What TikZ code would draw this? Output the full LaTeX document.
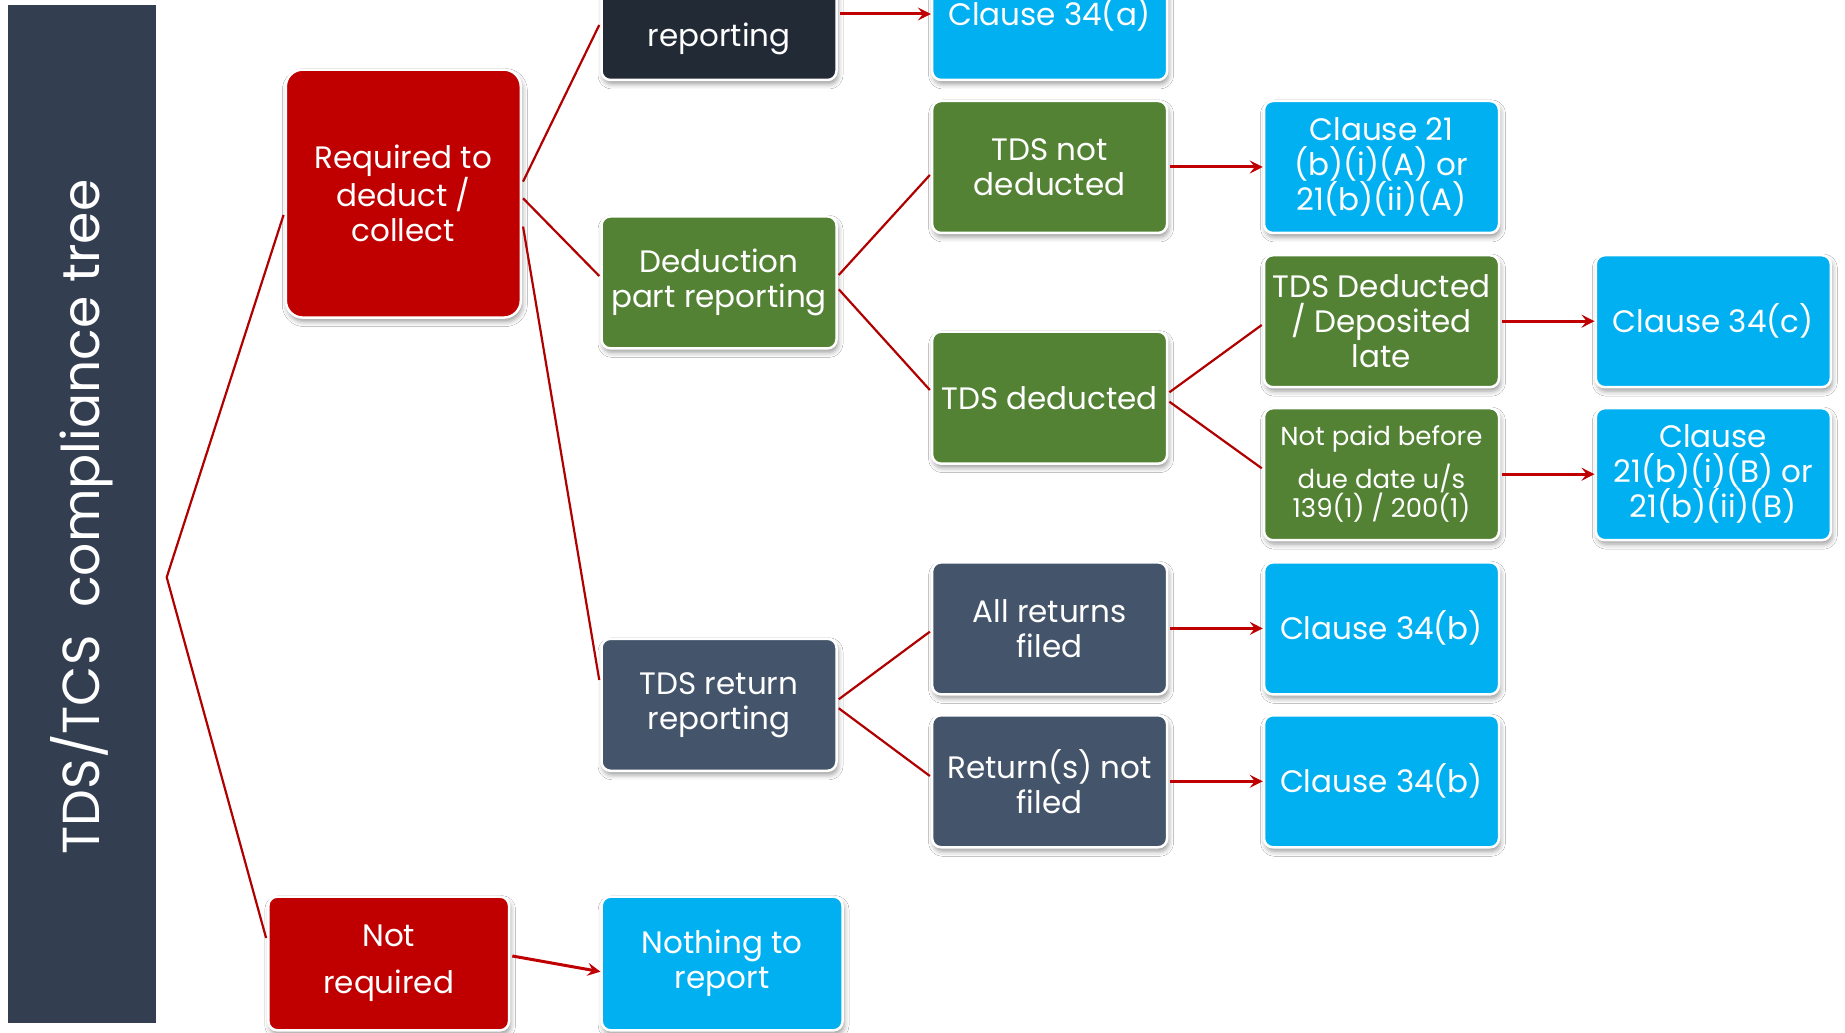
\documentclass[tikz,border=0pt]{standalone}
\usepackage{fontspec}
\setmainfont{Poppins}
\usetikzlibrary{calc,arrows.meta,shadows.blur}

\definecolor{barcol}{HTML}{333F50}
\definecolor{navybox}{HTML}{222A35}
\definecolor{redbox}{HTML}{C00000}
\definecolor{greenbox}{HTML}{548235}
\definecolor{slatebox}{HTML}{44546A}
\definecolor{bluebox}{HTML}{00B0F0}
\definecolor{linkred}{HTML}{C00000}

\tikzset{
  card/.style={draw=white, line width=2.5pt, rounded corners=9pt,
    minimum width=235pt, minimum height=132pt, inner xsep=0pt, inner ysep=0pt,
    align=center, text=white, font=\fontsize{31}{35}\selectfont,
    blur shadow={shadow xshift=1.5pt, shadow yshift=-4pt,
      shadow blur radius=5pt, shadow opacity=40}},
  navycard/.style={card, fill=navybox},
  redcard/.style={card, fill=redbox},
  greencard/.style={card, fill=greenbox},
  slatecard/.style={card, fill=slatebox},
  bluecard/.style={card, fill=bluebox},
  cardtext/.style={text=white, align=center, inner sep=0pt,
    font=\fontsize{31}{35}\selectfont},
  branch/.style={draw=linkred!92!black, line width=2.2pt},
  flow/.style={draw=linkred, line width=3pt,
    -{Stealth[length=13pt, width=13pt, inset=5pt]}},
}

\begin{document}
\begin{tikzpicture}[x=1pt, y=1pt]
  \path[use as bounding box, clip] (0,0) rectangle (1845,1033);
  \fill[white] (0,0) rectangle (1845,1033);

  % title bar
  \node[fill=barcol, minimum width=148pt, minimum height=1017.6pt, inner sep=0pt]
    (bar) at (82,519.2) {};
  \node[rotate=90, anchor=base, text=white, inner sep=0pt,
    font=\fontsize{52}{54}\selectfont] (title) at (99,516)
    {TDS/TCS\ \ compliance tree};

  % branching point of the tree
  \coordinate (root) at (166.7,455.7);

  % first level
  \node[redcard, rounded corners=17pt, minimum height=248pt] (req) at (403.3,839.4)
    {Required to\\deduct /\\collect};
  \node[redcard, minimum width=240.7pt, minimum height=133.7pt] (notreq) at (388.7,69.5)
    {Not\\[12pt]required};

  % second level
  \node[navycard] (rep) at (719,1019) {};
  \node[cardtext] (replabel) at (719,994.5) {reporting};
  \node[greencard] (ded) at (719,750.6) {Deduction\\part reporting};
  \node[slatecard] (ret) at (719,328.2) {TDS return\\reporting};
  \node[bluecard, minimum width=240.8pt, minimum height=133.7pt] (nothing) at (722.1,69.5)
    {Nothing to\\report};

  % third level
  \node[bluecard] (c34a) at (1049.6,1019) {Clause 34(a)};
  \node[greencard] (tnd) at (1049.6,866) {TDS not\\deducted};
  \node[greencard] (td) at (1049.6,635.3) {TDS deducted};
  \node[slatecard] (arf) at (1049.6,404.6) {All returns\\filed};
  \node[slatecard] (rnf) at (1049.6,251.7) {Return(s) not\\filed};

  % fourth level
  \node[bluecard] (c21a) at (1381.5,866) {Clause 21\\(b)(i)(A) or\\21(b)(ii)(A)};
  \node[greencard] (late) at (1381.5,711.8) {TDS Deducted\\/ Deposited\\late};
  \node[greencard, font=\fontsize{26}{29.5}\selectfont] (notpaid) at (1381.5,558.8)
    {Not paid before\\[10pt]due date u/s\\139(1) / 200(1)};
  \node[bluecard] (c34b1) at (1381.5,404.6) {Clause 34(b)};
  \node[bluecard] (c34b2) at (1381.5,251.7) {Clause 34(b)};

  % fifth level
  \node[bluecard] (c34c) at (1713.3,711.8) {Clause 34(c)};
  \node[bluecard] (c21b) at (1713.3,558.8) {Clause\\21(b)(i)(B) or\\21(b)(ii)(B)};

  % tree branches
  \draw[branch] ($(req.west)+(-1,-21.4)$) -- (root) -- ($(notreq.west)+(-1,25.5)$);
  \draw[branch] ($(req.east)+(1,12)$) -- ($(rep.west)+(-1,-11)$);
  \draw[branch] ($(req.east)+(1,-4.7)$) -- ($(ded.west)+(-1,6.4)$);
  \draw[branch] ($(req.east)+(1,-33)$) -- ($(ret.west)+(-1,24.8)$);
  \draw[branch] ($(ded.east)+(1,7.4)$) -- ($(tnd.west)+(-1,-8)$);
  \draw[branch] ($(ded.east)+(1,-6.9)$) -- ($(td.west)+(-1,7.7)$);
  \draw[branch] ($(td.east)+(1,5.4)$) -- ($(late.west)+(-1,-3.8)$);
  \draw[branch] ($(td.east)+(1,-4)$) -- ($(notpaid.west)+(-1,5.9)$);
  \draw[branch] ($(ret.east)+(1,5.5)$) -- ($(arf.west)+(-1,-3.3)$);
  \draw[branch] ($(ret.east)+(1,-3.5)$) -- ($(rnf.west)+(-1,5.3)$);

  % outcome arrows
  \draw[flow] ($(rep.east)+(2,0)$) -- (c34a.west);
  \draw[flow] ($(tnd.east)+(2,0)$) -- (c21a.west);
  \draw[flow] ($(late.east)+(2,0)$) -- (c34c.west);
  \draw[flow] ($(notpaid.east)+(2,0)$) -- (c21b.west);
  \draw[flow] ($(arf.east)+(2,0)$) -- (c34b1.west);
  \draw[flow] ($(rnf.east)+(2,0)$) -- (c34b2.west);
  \draw[flow] ($(notreq.east)+(2,7.5)$) -- ($(nothing.west)+(0,-8.2)$);
\end{tikzpicture}
\end{document}
